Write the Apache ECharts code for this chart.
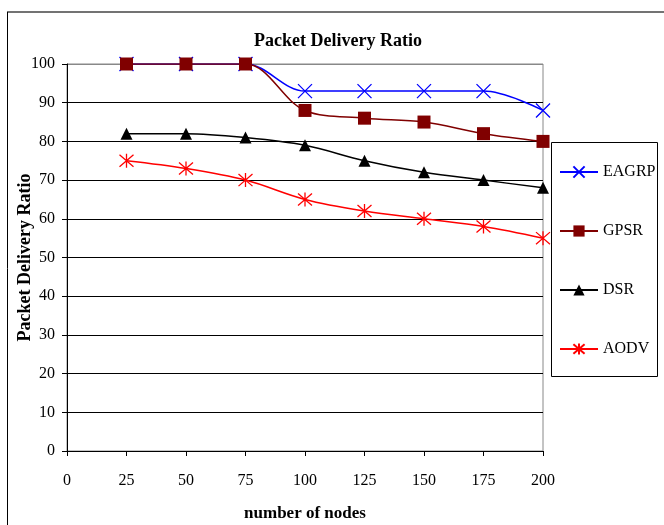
<!DOCTYPE html>
<html><head><meta charset="utf-8">
<script src="https://cdn.jsdelivr.net/npm/echarts@6/dist/echarts.min.js"></script>
<style>html,body{margin:0;padding:0;background:#fff}#c{width:664px;height:525px}</style>
</head><body><div id="c"></div>
<script>
const nodes = [25, 50, 75, 100, 125, 150, 175, 200];
const eagrp = [100, 100, 100, 93, 93, 93, 93, 88];
const gpsr = [100, 100, 100, 88, 86, 85, 82, 80];
const dsr = [82, 82, 81, 79, 75, 72, 70, 68];
const aodv = [75, 73, 70, 65, 62, 60, 58, 55];
const xTicks = [0, 25, 50, 75, 100, 125, 150, 175, 200];

const pair = (arr) => nodes.map((n, i) => [n, arr[i]]);
const font = '"Liberation Serif", "Times New Roman", serif';
const crossPath = 'path://M0,0L10,10M10,0L0,10';
const starPath = 'path://M5,0L5,10M0.7,0.7L9.3,9.3M9.3,0.7L0.7,9.3';

const chart = echarts.init(document.getElementById('c'));
const splitColors = ['#000','#000','#000','#000','#000','#000','#000','#000','#000','#000','#888'];
chart.setOption({
  animation: false,
  textStyle: { fontFamily: font },
  grid: { left: 67, right: 121, top: 64, bottom: 74, show: true, borderColor: '#888', borderWidth: 1,
    containLabel: false, outerBoundsMode: 'none' },
  xAxis: {
    type: 'value', min: 0, max: 200, interval: 25,
    name: 'number of nodes', nameLocation: 'middle', nameGap: 54, nameMoveOverlap: false,
    nameTextStyle: { fontFamily: font, fontSize: 17, fontWeight: 'bold', color: '#000' },
    axisLine: { show: true, onZero: false, lineStyle: { color: '#000', width: 1 } },
    axisTick: { show: true, length: 5, lineStyle: { color: '#000' } },
    axisLabel: { fontFamily: font, fontSize: 16, color: '#000', margin: 22,
      formatter: (v) => xTicks.includes(v) ? String(v) : '' },
    splitLine: { show: false }
  },
  yAxis: {
    type: 'value', min: 0, max: 100, interval: 10,
    name: 'Packet Delivery Ratio', nameLocation: 'middle', nameGap: 33, nameMoveOverlap: false,
    nameTextStyle: { fontFamily: font, fontSize: 18, fontWeight: 'bold', color: '#000' },
    axisLine: { show: true, lineStyle: { color: '#000', width: 1 } },
    axisTick: { show: true, length: 5, lineStyle: { color: '#000' } },
    axisLabel: { fontFamily: font, fontSize: 16, color: '#000', margin: 12 },
    splitLine: { show: true, lineStyle: { color: splitColors, width: 1 } }
  },
  legend: {
    orient: 'vertical', left: 559, top: 164, padding: 0, itemGap: 43, itemWidth: 38, itemHeight: 14,
    textStyle: { fontFamily: font, fontSize: 16, color: '#000' },
    data: ['EAGRP', 'GPSR', 'DSR', 'AODV']
  },
  graphic: [
    { type: 'text', x: 338, y: 41,
      style: { text: 'Packet Delivery Ratio', font: 'bold 18px "Liberation Serif", serif',
        fill: '#000', textAlign: 'center', textVerticalAlign: 'middle' } },
    { type: 'rect', shape: { x: 551.5, y: 142.5, width: 106, height: 234 },
      style: { fill: 'none', stroke: '#000', lineWidth: 1 }, z: 0 },
    { type: 'line', shape: { x1: 7, y1: 12, x2: 664, y2: 12 },
      style: { stroke: '#444', lineWidth: 1.5 }, z: 0 },
    { type: 'line', shape: { x1: 7.5, y1: 12, x2: 7.5, y2: 525 },
      style: { stroke: '#000', lineWidth: 1 }, z: 0 }
  ],
  series: [
    { name: 'EAGRP', type: 'line', data: pair(eagrp), smooth: 0.35,
      symbol: crossPath, symbolSize: 14,
      lineStyle: { color: '#0000ff', width: 1.5 },
      itemStyle: { color: '#0000ff', borderColor: '#0000ff', borderWidth: 1.3 } },
    { name: 'GPSR', type: 'line', data: pair(gpsr), smooth: 0.35,
      symbol: 'rect', symbolSize: 13,
      lineStyle: { color: '#800000', width: 1.5 },
      itemStyle: { color: '#800000', borderColor: '#800000', borderWidth: 0 } },
    { name: 'DSR', type: 'line', data: pair(dsr), smooth: 0.35,
      symbol: 'triangle', symbolSize: 12,
      lineStyle: { color: '#000', width: 1.5 },
      itemStyle: { color: '#000', borderColor: '#000', borderWidth: 0 } },
    { name: 'AODV', type: 'line', data: pair(aodv), smooth: 0.35,
      symbol: starPath, symbolSize: 14,
      lineStyle: { color: '#ff0000', width: 1.5 },
      itemStyle: { color: '#ff0000', borderColor: '#ff0000', borderWidth: 1.3 } }
  ]
});
</script></body></html>
